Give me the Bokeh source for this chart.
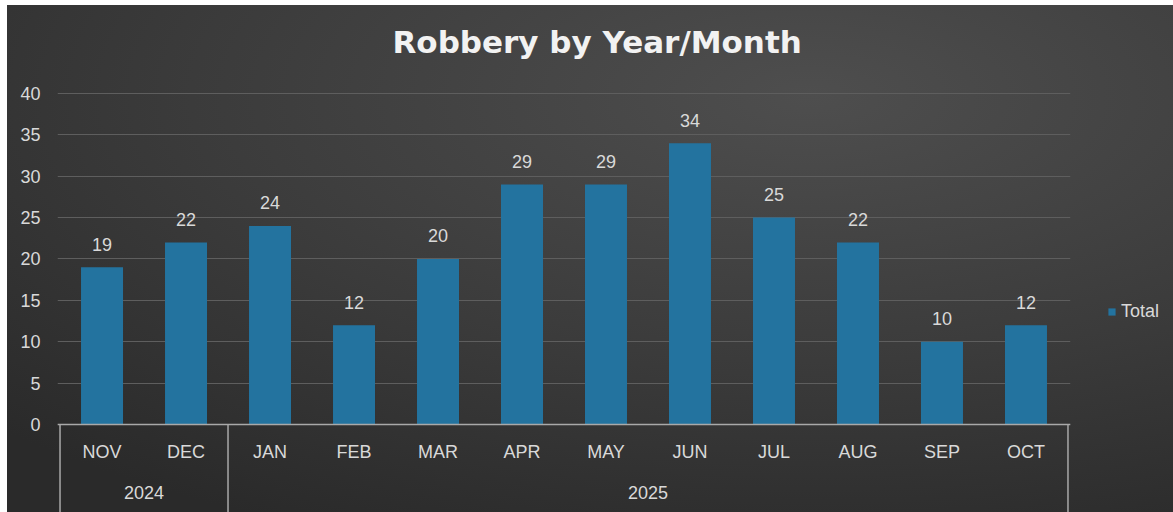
from bokeh.plotting import figure
from bokeh.models import (FactorRange, ColumnDataSource, CategoricalAxis, Legend,
                          LegendItem, Title, FixedTicker, Range1d)
from bokeh.core.properties import value
from bokeh.embed import file_html
from bokeh.resources import INLINE

# ---- data ----
years = ["2024", "2024", "2025", "2025", "2025", "2025", "2025", "2025", "2025", "2025", "2025", "2025"]
months = ["NOV", "DEC", "JAN", "FEB", "MAR", "APR", "MAY", "JUN", "JUL", "AUG", "SEP", "OCT"]
totals = [19, 22, 24, 12, 20, 29, 29, 34, 25, 22, 10, 12]
y_ticks = [0, 5, 10, 15, 20, 25, 30, 35, 40]
title_text = "Robbery by Year/Month"
series_name = "Total"

factors = list(zip(years, months))

# group boundaries (in synthetic category units)
bounds = [0]
for i in range(1, len(years)):
    if years[i] != years[i - 1]:
        bounds.append(i)
bounds.append(len(years))

TXT = "#d9d9d9"
FONT = "Liberation Sans"
LINE = "#a9a9a9"

src = ColumnDataSource(dict(x=factors, total=totals, label=[str(v) for v in totals]))

x_range = FactorRange(*factors, factor_padding=0, group_padding=0, subgroup_padding=0,
                      range_padding=0.005)
y_range = Range1d(-10.634, 43.38)

p = figure(frame_width=1013, frame_height=447, x_range=x_range, y_range=y_range,
           output_backend="svg", toolbar_location=None,
           min_border_left=50, min_border_right=103, min_border_top=60, min_border_bottom=0)
p.margin = (5, 0, 0, 7)
p.styles = {"background": "radial-gradient(ellipse 70% 95% at 50% 18%, #4e4e4e 0%, #3b3b3b 55%, #2a2a2a 100%)"}
p.background_fill_color = None
p.border_fill_color = None
p.outline_line_color = None

p.add_layout(Title(text=title_text, align="left", offset=335, standoff=12, text_font="DejaVu Sans",
                   text_font_style="bold", text_font_size="31px", text_color="#f2f2f2"), "above")

bars = p.vbar(x="x", top="total", width=0.5, source=src, fill_color="#23739f", line_color=None)
p.text(x="x", y="total", text="label", source=src, text_align="center", text_baseline="alphabetic",
       y_offset=-23, text_font_size="18px", text_font=value(FONT), text_color=TXT)

p.segment(x0=bounds, y0=[0] * len(bounds), x1=bounds, y1=[-20] * len(bounds),
          line_color=LINE, line_width=1.5)

# y axis
p.yaxis.ticker = FixedTicker(ticks=y_ticks)
p.yaxis.axis_line_color = None
p.yaxis.major_tick_line_color = None
p.yaxis.minor_tick_line_color = None
p.yaxis.major_label_standoff = 11
p.yaxis.major_label_text_font = FONT
p.yaxis.major_label_text_font_size = "18px"
p.yaxis.major_label_text_color = TXT
p.ygrid.ticker = FixedTicker(ticks=y_ticks)
p.ygrid.grid_line_color = "#5e5e5e"
p.ygrid.grid_line_width = 1
p.xgrid.grid_line_color = None

# x axis (months)
xa = p.xaxis[0]
xa.fixed_location = 0
xa.axis_line_color = LINE
xa.axis_line_width = 1.5
xa.major_tick_line_color = None
xa.major_label_standoff = 12
xa.major_label_text_font = FONT
xa.major_label_text_font_size = "18px"
xa.major_label_text_color = TXT
xa.group_text_color = None
xa.separator_line_color = None

# second axis (years)
ya = CategoricalAxis(fixed_location=-6.71)
ya.axis_line_color = None
ya.major_tick_line_color = None
ya.major_label_standoff = 0
ya.major_label_text_font_size = "1px"
ya.major_label_text_color = None
ya.group_text_font = FONT
ya.group_text_font_size = "18px"
ya.group_text_color = TXT
ya.group_text_font_style = "normal"
ya.separator_line_color = None
p.add_layout(ya, "below")

legend = Legend(items=[LegendItem(label=series_name, renderers=[bars])], location=(37, 190),
                border_line_color=None, background_fill_alpha=0, padding=0, margin=0,
                glyph_width=9, glyph_height=9, label_standoff=5, label_height=20,
                label_text_font=FONT, label_text_font_size="18px", label_text_color=TXT)
p.add_layout(legend, "right")

open("out.html", "w").write(file_html(p, INLINE))
